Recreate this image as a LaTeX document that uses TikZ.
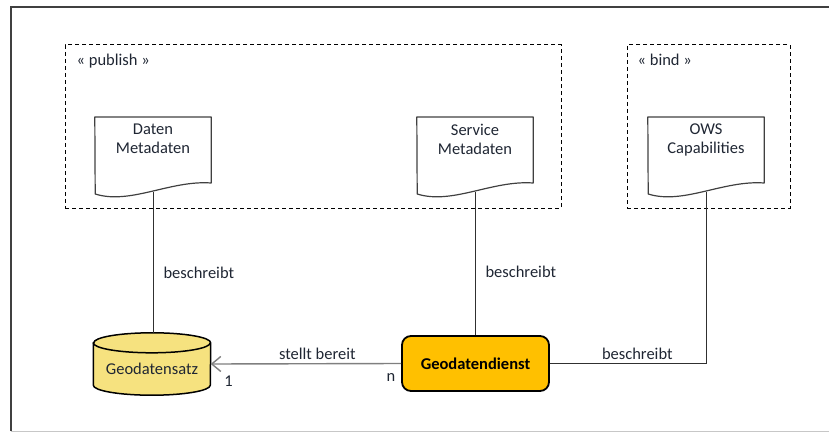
\documentclass[tikz,border=0pt]{standalone}
\usepackage{fontspec}
\setmainfont{Carlito}
\usetikzlibrary{positioning,arrows.meta,backgrounds}
\definecolor{ink}{HTML}{1F2633}
\definecolor{docgrau}{HTML}{404040}
\definecolor{linegrau}{HTML}{303030}
\definecolor{pfeilgrau}{HTML}{7F7F7F}
\definecolor{satzgelb}{HTML}{F6E27F}
\definecolor{dienstgelb}{HTML}{FFC000}
\newcommand{\docframe}[1]{\draw[docline] (#1.north west) -- (#1.north east) -- ++(0,66) .. controls +(-41,-3) and +(35,11) .. ++(-116,11) -- cycle;}
\newcommand{\doctext}[2]{\parbox[c][75pt][t]{116pt}{\centering\vspace{7pt}#1\\#2}}
\begin{document}
\begin{tikzpicture}[x=1pt,y=-1pt,
  every node/.style={font=\fontsize{16.5}{19}\selectfont,text=ink},
  docnode/.style={inner sep=0pt,anchor=north},
  docline/.style={draw=docgrau,line width=1.2pt,line join=round},
  grpbox/.style={draw=black,line width=1pt,dash pattern=on 4pt off 3pt,minimum height=163pt,inner sep=0pt},
  conn/.style={draw=linegrau,line width=1pt},
  reicht/.style={draw=pfeilgrau,line width=1.4pt,-{Straight Barb[length=9pt,width=15pt]}},
  lbl/.style={inner sep=0pt},
  satznode/.style={minimum width=117pt,minimum height=62pt,inner sep=0pt,text height=21pt,text depth=0pt},
  satzline/.style={draw=black,line width=1.5pt,fill=satzgelb},
  dienstnode/.style={draw=black,line width=1.8pt,fill=dienstgelb,rounded corners=9pt,minimum width=147pt,minimum height=55pt,font=\fontsize{16.5}{19}\selectfont\bfseries,text=black}]
  \useasboundingbox (0,0) rectangle (829,433);
  \draw[draw=docgrau,line width=1.3pt] (11,431) -- (11,7) -- (829,7);
  \draw[draw=black!22,line width=1pt] (11,431.5) -- (829,431.5);
  \node[grpbox,minimum width=496pt] (publish) at (313,126.5) {};
  \node[grpbox,minimum width=163pt] (bind) at (708.5,126.5) {};
  \node[lbl,below right=9pt and 12pt of publish.north west] (publishlbl) {« publish »};
  \node[lbl,below right=9pt and 11pt of bind.north west] (bindlbl) {« bind »};
  \node[docnode] (dmeta) at (153,117) {\doctext{Daten}{Metadaten}};
  \node[docnode] (smeta) at (475,117) {\doctext{Service}{Metadaten}};
  \node[docnode] (owscap) at (706,117) {\doctext{OWS}{Capabilities}};
  \docframe{dmeta}
  \docframe{smeta}
  \docframe{owscap}
  \node[satznode] (satz) at (152,364) {Geodatensatz};
  \begin{scope}[on background layer]
    \draw[satzline] ([yshift=-10pt]satz.north west) -- ([yshift=10pt]satz.south west) arc[start angle=180,end angle=360,x radius=58.5pt,y radius=10pt] -- ([yshift=-10pt]satz.north east) arc[start angle=0,end angle=180,x radius=58.5pt,y radius=10pt] -- cycle;
    \draw[satzline,fill=none] ([yshift=-10pt]satz.north west) arc[start angle=180,end angle=360,x radius=58.5pt,y radius=10pt];
  \end{scope}
  \node[dienstnode] (dienst) at (475.5,363.5) {Geodatendienst};
  \draw[conn] (dmeta.south) -- (dmeta.south |- satz.north) node[lbl,right=10pt,pos=.57] {beschreibt};
  \draw[conn] (smeta.south) -- (smeta.south |- dienst.north) node[lbl,right=10pt,pos=.56] {beschreibt};
  \draw[conn] (owscap.south) |- (dienst.east) node[lbl,above=3pt,pos=.72] {beschreibt};
  \draw[reicht] (dienst.west) -- (satz.east)
    node[lbl,above=3pt,pos=.44] {stellt bereit}
    node[lbl,below right=11pt and 13pt,pos=1] {1}
    node[lbl,below left=9.5pt and 5pt,pos=0] {n};
\end{tikzpicture}
\end{document}
